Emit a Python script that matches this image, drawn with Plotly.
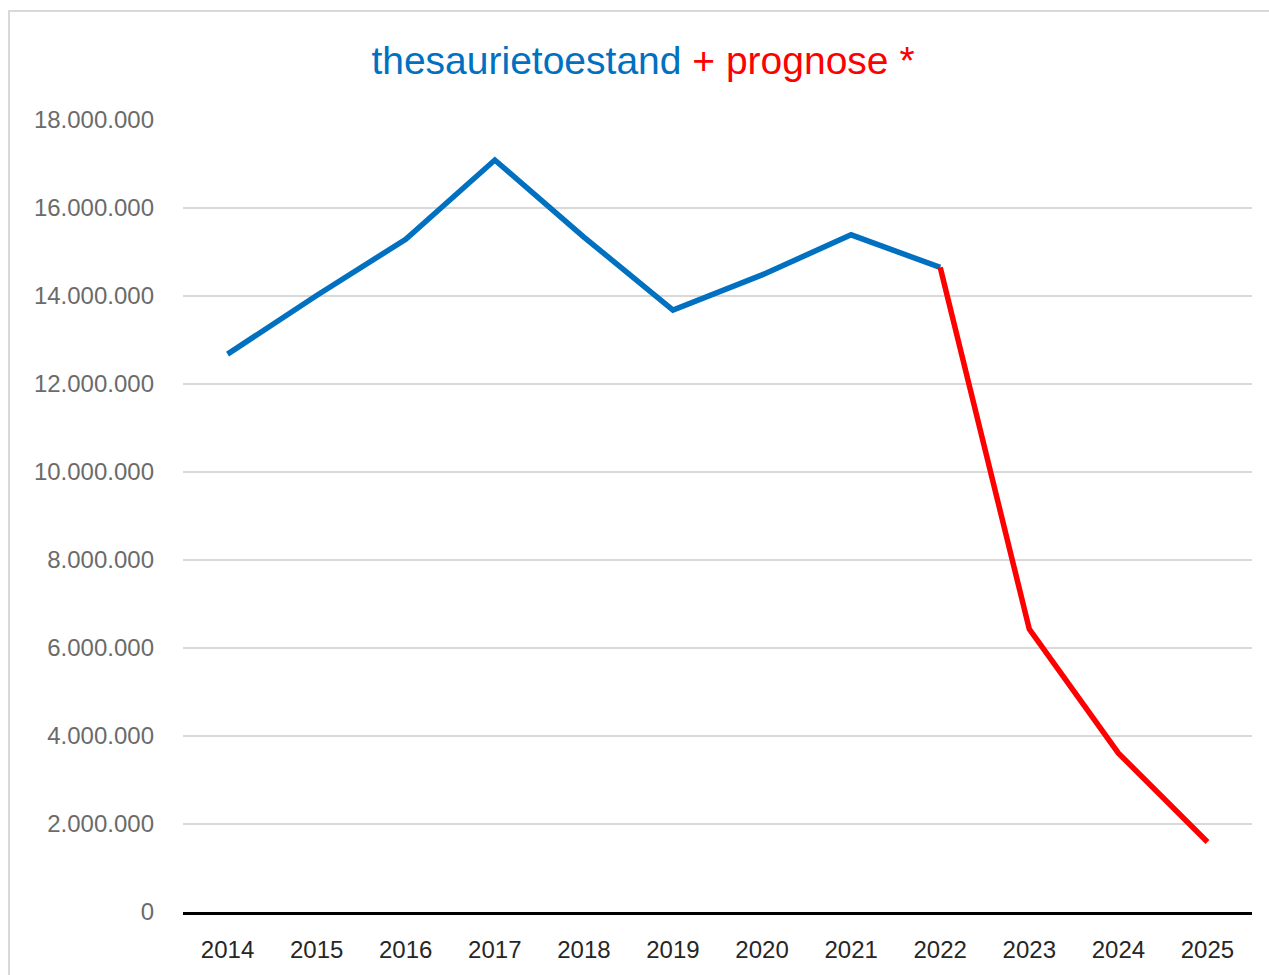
import plotly.graph_objects as go

years = ["2014", "2015", "2016", "2017", "2018", "2019", "2020", "2021", "2022", "2023", "2024", "2025"]
actual_years = years[:9]
actual_values = [12680000, 14010000, 15290000, 17090000, 15340000, 13680000, 14480000, 15390000, 14650000]
forecast_years = years[8:]
forecast_values = [14650000, 6430000, 3610000, 1590000]
y_ticks = [0, 2000000, 4000000, 6000000, 8000000, 10000000, 12000000, 14000000, 16000000, 18000000]

BLUE = "#0070C0"
RED = "#FF0000"
FONT = "Liberation Sans"

fig = go.Figure()
fig.add_trace(go.Scatter(x=actual_years, y=actual_values, mode="lines",
                         line=dict(color=BLUE, width=5.5), showlegend=False, hoverinfo="x+y"))
fig.add_trace(go.Scatter(x=forecast_years, y=forecast_values, mode="lines",
                         line=dict(color=RED, width=5.5), showlegend=False, hoverinfo="x+y"))

W, H = 1269, 975
L, R, T, B = 183, 17, 120, 63
pw, ph = W - L - R, H - T - B

def px_x(p):
    return (p - L) / pw

def px_y(p):
    return (H - B - p) / ph

fig.update_layout(
    width=W, height=H,
    margin=dict(l=L, r=R, t=T, b=B),
    paper_bgcolor="white", plot_bgcolor="white",
    separators=",.",
    font=dict(family=FONT, size=24, color="#595959"),
    title=dict(
        text=f"<span style='color:{BLUE}'>thesaurietoestand</span> <span style='color:{RED}'>+ prognose *</span>",
        x=643 / W, xanchor="center", y=1 - 60 / H, yanchor="middle",
        font=dict(family=FONT, size=39),
    ),
    xaxis=dict(type="category", categoryorder="array", categoryarray=years,
               range=[-0.5, len(years) - 0.5],
               showgrid=False, showline=True, linecolor="black", linewidth=3,
               ticks="", tickfont=dict(color="#262626", size=24),
               ticklabelstandoff=14, fixedrange=True),
    yaxis=dict(range=[0, 18000000], tickvals=y_ticks, tickformat=",d",
               showgrid=True, gridcolor="#d9d9d9", gridwidth=2,
               zeroline=False, showline=False, ticks="",
               tickfont=dict(color="#6b6b6b", size=24),
               ticklabelstandoff=28, fixedrange=True),
    shapes=[dict(type="rect", xref="paper", yref="paper",
                 x0=px_x(9), x1=px_x(1280), y0=px_y(990), y1=px_y(11),
                 line=dict(color="#d9d9d9", width=2), fillcolor="rgba(0,0,0,0)", layer="below")],
)

fig.write_html("out.html", config={"displayModeBar": False},
               post_script="document.body.style.margin='0px';")
